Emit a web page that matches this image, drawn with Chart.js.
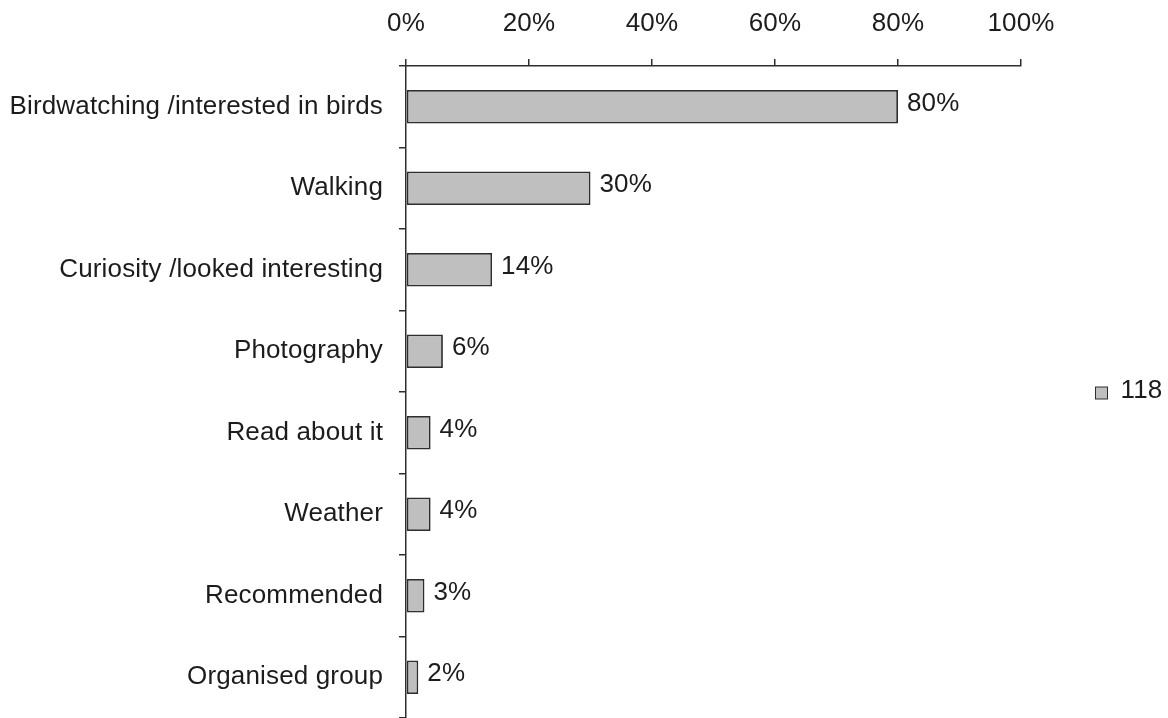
<!DOCTYPE html>
<html>
<head>
<meta charset="utf-8">
<script src="https://cdn.jsdelivr.net/npm/chart.js@4"></script>
<style>
  html, body { margin: 0; padding: 0; background: #ffffff; }
  canvas { display: block; }
</style>
</head>
<body>
<canvas id="chart" width="1168" height="718"></canvas>
<script>
// Reasons given for visiting (share of respondents)
const categories = [
  'Birdwatching /interested in birds',
  'Walking',
  'Curiosity /looked interesting',
  'Photography',
  'Read about it',
  'Weather',
  'Recommended',
  'Organised group'
];
const percentages = [80, 30, 14, 6, 4, 4, 3, 2];
const seriesLabel = '118';
const axisMin = 0;
const axisMax = 100;
const axisStep = 20;

const TEXT = '#1c1c1c';
const LINE = '#2e2e2e';
const BAR_FILL = '#bfbfc0';
const FONT = { family: '"Liberation Sans", Arial, sans-serif', size: 26 };
const TRACKING = '0.15px';

// Light tracking on all canvas text
const tracking = {
  id: 'tracking',
  beforeUpdate(chart) { chart.ctx.letterSpacing = TRACKING; },
  beforeDraw(chart) { chart.ctx.letterSpacing = TRACKING; }
};

// Percentage labels at the end of each bar
const valueLabels = {
  id: 'valueLabels',
  afterDatasetsDraw(chart) {
    const ctx = chart.ctx;
    const meta = chart.getDatasetMeta(0);
    ctx.save();
    ctx.letterSpacing = TRACKING;
    ctx.font = `${FONT.size}px ${FONT.family}`;
    ctx.fillStyle = TEXT;
    ctx.textAlign = 'left';
    ctx.textBaseline = 'middle';
    meta.data.forEach((bar, i) => {
      const v = chart.data.datasets[0].data[i];
      ctx.fillText(v + '%', bar.x + 9, bar.y - 3);
    });
    ctx.restore();
  }
};

// Single-entry key at the right, vertically centred on the plot
const sideKey = {
  id: 'sideKey',
  afterDraw(chart) {
    const ctx = chart.ctx;
    const area = chart.chartArea;
    const ds = chart.data.datasets[0];
    const cy = (area.top + area.bottom) / 2 + 1;
    const x = area.right + 74.5;
    ctx.save();
    ctx.fillStyle = ds.backgroundColor;
    ctx.strokeStyle = ds.borderColor;
    ctx.lineWidth = 1;
    ctx.fillRect(x, cy - 6, 12, 12);
    ctx.strokeRect(x, cy - 6, 12, 12);
    ctx.letterSpacing = TRACKING;
    ctx.font = `${FONT.size}px ${FONT.family}`;
    ctx.fillStyle = TEXT;
    ctx.textAlign = 'left';
    ctx.textBaseline = 'middle';
    ctx.fillText(ds.label, x + 25, cy - 2);
    ctx.restore();
  }
};

new Chart(document.getElementById('chart'), {
  type: 'bar',
  data: {
    labels: categories,
    datasets: [{
      label: seriesLabel,
      data: percentages,
      backgroundColor: BAR_FILL,
      borderColor: LINE,
      borderWidth: 1.8,
      borderSkipped: false,
      barPercentage: 0.41,
      categoryPercentage: 1
    }]
  },
  options: {
    indexAxis: 'y',
    responsive: false,
    devicePixelRatio: 1,
    animation: false,
    layout: { padding: { left: 0, right: 147, top: 0, bottom: 0 } },
    plugins: {
      legend: { display: false },
      tooltip: { enabled: false }
    },
    scales: {
      x: {
        position: 'top',
        min: axisMin,
        max: axisMax,
        ticks: {
          stepSize: axisStep,
          callback: v => v + '%',
          font: FONT,
          color: TEXT,
          padding: 20
        },
        grid: {
          drawOnChartArea: false,
          drawTicks: true,
          tickLength: 7,
          color: LINE,
          lineWidth: 1.5
        },
        border: { display: true, color: LINE, width: 1.5 },
        afterFit(scale) {
          scale.height = 66;
          scale.paddingLeft = 0;
          scale.paddingRight = 0;
        }
      },
      y: {
        ticks: {
          font: FONT,
          color: TEXT,
          padding: 16
        },
        grid: {
          offset: true,
          drawOnChartArea: false,
          drawTicks: true,
          tickLength: 7,
          color: LINE,
          lineWidth: 1.5
        },
        border: { display: true, color: LINE, width: 1.5 },
        afterFit(scale) {
          scale.width = 406;
          scale.paddingTop = 0;
          scale.paddingBottom = 0;
        }
      }
    }
  },
  plugins: [tracking, valueLabels, sideKey]
});
</script>
</body>
</html>
